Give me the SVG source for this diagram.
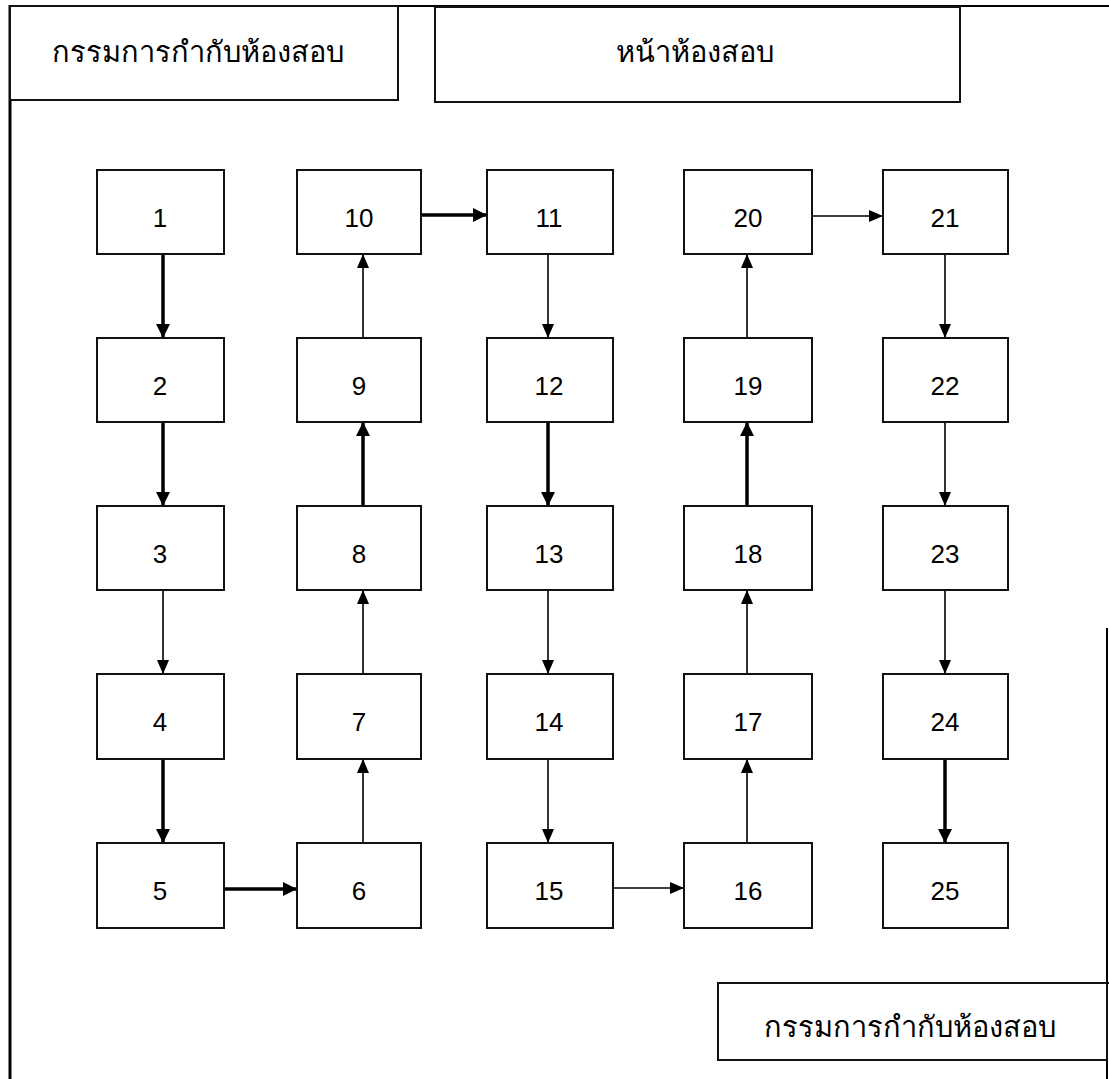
<svg xmlns="http://www.w3.org/2000/svg" width="1109" height="1079" viewBox="0 0 1109 1079">
<defs>
<style>
.frame{fill:none;stroke:#000;stroke-width:2}
.box{fill:#fff;stroke:#111;stroke-width:2}
.num{font-family:"Liberation Sans","DejaVu Sans",sans-serif;font-size:26px;fill:#000;text-anchor:middle}
.th{font-family:"DejaVu Sans","Noto Sans",sans-serif;font-size:29px;fill:#000;text-anchor:middle}
.thick{stroke:#000;stroke-width:3.5;fill:none}
.thin{stroke:#000;stroke-width:1.6;fill:none}
</style>
<marker id="ah" markerUnits="userSpaceOnUse" viewBox="0 0 14 14" refX="14" refY="7" markerWidth="14" markerHeight="14" orient="auto">
<path d="M0,0 L14,7 L0,14 z" fill="#000"/>
</marker>
<marker id="ahs" markerUnits="userSpaceOnUse" viewBox="0 0 14 12" refX="14" refY="6" markerWidth="14" markerHeight="12" orient="auto">
<path d="M0,0 L14,6 L0,12 z" fill="#000"/>
</marker>
</defs>
<rect width="1109" height="1079" fill="#fff"/>
<g id="frame">
<line class="frame" x1="10" y1="6" x2="1109" y2="6"/>
<line x1="10" y1="5" x2="10" y2="1079" stroke="#000" stroke-width="3"/>
<line class="frame" x1="1107" y1="628" x2="1107" y2="1079"/>
</g>
<g id="header-left">
<rect class="box" x="10" y="6" width="388" height="94"/>
<text class="th" x="198" y="62">กรรมการกำกับห้องสอบ</text>
</g>
<g id="header-mid">
<rect class="box" x="435" y="7" width="525" height="95"/>
<text class="th" x="695" y="62">หน้าห้องสอบ</text>
</g>
<g id="footer-right">
<rect class="box" x="718" y="983" width="389" height="77"/>
<line class="frame" x1="1107" y1="983" x2="1109" y2="983"/>
<text class="th" x="910" y="1037">กรรมการกำกับห้องสอบ</text>
</g>
<g id="connectors">
<line class="thick" x1="163" y1="254" x2="163" y2="338" marker-end="url(#ah)"/>
<line class="thick" x1="163" y1="422" x2="163" y2="506" marker-end="url(#ah)"/>
<line class="thin" x1="163" y1="590" x2="163" y2="674" marker-end="url(#ahs)"/>
<line class="thick" x1="163" y1="759" x2="163" y2="843" marker-end="url(#ah)"/>
<line class="thick" x1="224" y1="889" x2="297" y2="889" marker-end="url(#ah)"/>
<line class="thin" x1="363" y1="843" x2="363" y2="759" marker-end="url(#ahs)"/>
<line class="thin" x1="363" y1="674" x2="363" y2="590" marker-end="url(#ahs)"/>
<line class="thick" x1="363" y1="506" x2="363" y2="422" marker-end="url(#ah)"/>
<line class="thin" x1="363" y1="338" x2="363" y2="254" marker-end="url(#ahs)"/>
<line class="thick" x1="421" y1="215" x2="487" y2="215" marker-end="url(#ah)"/>
<line class="thin" x1="548" y1="254" x2="548" y2="338" marker-end="url(#ahs)"/>
<line class="thick" x1="548" y1="422" x2="548" y2="506" marker-end="url(#ah)"/>
<line class="thin" x1="548" y1="590" x2="548" y2="674" marker-end="url(#ahs)"/>
<line class="thin" x1="548" y1="759" x2="548" y2="843" marker-end="url(#ahs)"/>
<line class="thin" x1="613" y1="888" x2="684" y2="888" marker-end="url(#ahs)"/>
<line class="thin" x1="747" y1="843" x2="747" y2="759" marker-end="url(#ahs)"/>
<line class="thin" x1="747" y1="674" x2="747" y2="590" marker-end="url(#ahs)"/>
<line class="thick" x1="747" y1="506" x2="747" y2="422" marker-end="url(#ah)"/>
<line class="thin" x1="747" y1="338" x2="747" y2="254" marker-end="url(#ahs)"/>
<line class="thin" x1="812" y1="216" x2="883" y2="216" marker-end="url(#ahs)"/>
<line class="thin" x1="945" y1="254" x2="945" y2="338" marker-end="url(#ahs)"/>
<line class="thin" x1="945" y1="422" x2="945" y2="506" marker-end="url(#ahs)"/>
<line class="thin" x1="945" y1="590" x2="945" y2="674" marker-end="url(#ahs)"/>
<line class="thick" x1="945" y1="759" x2="945" y2="843" marker-end="url(#ah)"/>
</g>
<g id="n1"><rect class="box" x="97" y="170" width="127" height="84"/><text class="num" x="160" y="227">1</text></g>
<g id="n2"><rect class="box" x="97" y="338" width="127" height="84"/><text class="num" x="160" y="395">2</text></g>
<g id="n3"><rect class="box" x="97" y="506" width="127" height="84"/><text class="num" x="160" y="563">3</text></g>
<g id="n4"><rect class="box" x="97" y="674" width="127" height="85"/><text class="num" x="160" y="731">4</text></g>
<g id="n5"><rect class="box" x="97" y="843" width="127" height="85"/><text class="num" x="160" y="900">5</text></g>
<g id="n6"><rect class="box" x="297" y="843" width="124" height="85"/><text class="num" x="359" y="900">6</text></g>
<g id="n7"><rect class="box" x="297" y="674" width="124" height="85"/><text class="num" x="359" y="731">7</text></g>
<g id="n8"><rect class="box" x="297" y="506" width="124" height="84"/><text class="num" x="359" y="563">8</text></g>
<g id="n9"><rect class="box" x="297" y="338" width="124" height="84"/><text class="num" x="359" y="395">9</text></g>
<g id="n10"><rect class="box" x="297" y="170" width="124" height="84"/><text class="num" x="359" y="227">10</text></g>
<g id="n11"><rect class="box" x="487" y="170" width="126" height="84"/><text class="num" x="549" y="227">11</text></g>
<g id="n12"><rect class="box" x="487" y="338" width="126" height="84"/><text class="num" x="549" y="395">12</text></g>
<g id="n13"><rect class="box" x="487" y="506" width="126" height="84"/><text class="num" x="549" y="563">13</text></g>
<g id="n14"><rect class="box" x="487" y="674" width="126" height="85"/><text class="num" x="549" y="731">14</text></g>
<g id="n15"><rect class="box" x="487" y="843" width="126" height="85"/><text class="num" x="549" y="900">15</text></g>
<g id="n16"><rect class="box" x="684" y="843" width="128" height="85"/><text class="num" x="748" y="900">16</text></g>
<g id="n17"><rect class="box" x="684" y="674" width="128" height="85"/><text class="num" x="748" y="731">17</text></g>
<g id="n18"><rect class="box" x="684" y="506" width="128" height="84"/><text class="num" x="748" y="563">18</text></g>
<g id="n19"><rect class="box" x="684" y="338" width="128" height="84"/><text class="num" x="748" y="395">19</text></g>
<g id="n20"><rect class="box" x="684" y="170" width="128" height="84"/><text class="num" x="748" y="227">20</text></g>
<g id="n21"><rect class="box" x="883" y="170" width="125" height="84"/><text class="num" x="945" y="227">21</text></g>
<g id="n22"><rect class="box" x="883" y="338" width="125" height="84"/><text class="num" x="945" y="395">22</text></g>
<g id="n23"><rect class="box" x="883" y="506" width="125" height="84"/><text class="num" x="945" y="563">23</text></g>
<g id="n24"><rect class="box" x="883" y="674" width="125" height="85"/><text class="num" x="945" y="731">24</text></g>
<g id="n25"><rect class="box" x="883" y="843" width="125" height="85"/><text class="num" x="945" y="900">25</text></g>
</svg>
